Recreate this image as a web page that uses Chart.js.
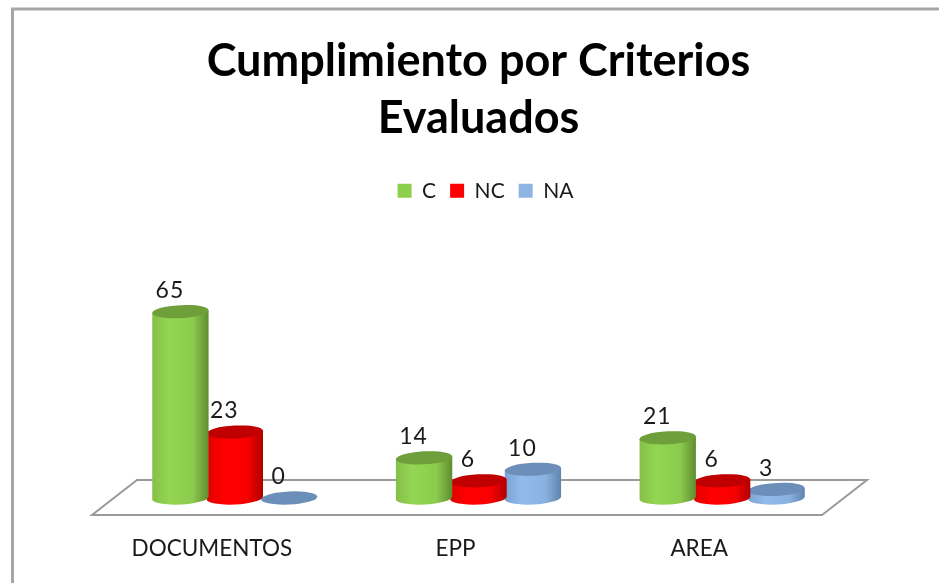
<!DOCTYPE html>
<html>
<head>
<meta charset="utf-8">
<style>
  html, body { margin: 0; padding: 0; background: #fff; }
  #wrap { position: absolute; left: 0; top: 0; width: 939px; height: 583px; }
  canvas { filter: blur(0.5px); }
</style>
<script src="https://cdn.jsdelivr.net/npm/chart.js@4"></script>
</head>
<body>
<div id="wrap"><canvas id="myChart" width="939" height="583"></canvas></div>
<script>
const categories = ['DOCUMENTOS', 'EPP', 'AREA'];
const seriesNames = ['C', 'NC', 'NA'];
const cValues = [65, 14, 21];
const ncValues = [23, 6, 6];
const naValues = [0, 10, 3];
const titleLines = ['Cumplimiento por Criterios', 'Evaluados'];

// colours for each cylinder: side gradient stops + darker lid
const skins = [
  { legend: '#8ccf4d', lid: '#6f9f3a', side: ['#86bf48', '#93d653', '#8ccb4d', '#5f8c30'] },
  { legend: '#ff0000', lid: '#c00000', side: ['#e00000', '#ff0000', '#f80000', '#b00000'] },
  { legend: '#8db4e2', lid: '#6c8fba', side: ['#7ba3d2', '#92bbec', '#8ab2e0', '#5f83ad'] }
];

const FONT = 'Lato, Carlito, sans-serif';
const TILT = -0.05;
const LID = 6.5;

function drawCylinder(ctx, bar, skin) {
  const a = bar.width / 2 + 1;
  const cx = bar.x, top = bar.y, base = bar.base;
  const dx = a * Math.cos(TILT), dy = a * Math.sin(TILT);
  const grad = ctx.createLinearGradient(cx - a, 0, cx + a, 0);
  grad.addColorStop(0, skin.side[0]);
  grad.addColorStop(0.3, skin.side[1]);
  grad.addColorStop(0.72, skin.side[2]);
  grad.addColorStop(1, skin.side[3]);

  if (base - top > 0.5) {
    ctx.beginPath();
    ctx.moveTo(cx - dx, top - dy);
    ctx.lineTo(cx - dx, base - dy);
    ctx.ellipse(cx, base, a, LID, TILT, Math.PI, 0, true);
    ctx.lineTo(cx + dx, top + dy);
    ctx.closePath();
    ctx.fillStyle = grad;
    ctx.fill();
  }
  ctx.beginPath();
  ctx.ellipse(cx, top, a, LID, TILT, 0, Math.PI * 2);
  ctx.fillStyle = skin.lid;
  ctx.fill();
}

const cylinderPlugin = {
  id: 'cylinders',
  afterLayout(chart) {
    // legend sits a little right of the title in the picture
    chart.legend.left += 7;
    chart.legend.right += 7;
  },
  beforeDraw(chart) {
    // outer frame, only top and left show in the picture
    const ctx = chart.ctx;
    ctx.save();
    ctx.strokeStyle = '#a6a6a6';
    ctx.lineWidth = 3;
    ctx.beginPath();
    ctx.moveTo(12.5, chart.height);
    ctx.lineTo(12.5, 9);
    ctx.lineTo(chart.width, 9);
    ctx.stroke();
    ctx.restore();
  },
  beforeDatasetsDraw(chart) {
    // floor of the 3d chart
    const ctx = chart.ctx, area = chart.chartArea, y0 = chart.scales.y.getPixelForValue(0);
    ctx.save();
    ctx.beginPath();
    ctx.moveTo(area.left + 24, y0 - 18);
    ctx.lineTo(area.right + 23, y0 - 18);
    ctx.lineTo(area.right - 22, y0 + 17);
    ctx.lineTo(area.left - 21, y0 + 17);
    ctx.closePath();
    ctx.strokeStyle = '#9a9a9a';
    ctx.lineWidth = 2;
    ctx.stroke();
    ctx.restore();
  },
  beforeDatasetDraw(chart, args) {
    const ctx = chart.ctx;
    ctx.save();
    args.meta.data.forEach(bar => drawCylinder(ctx, bar, skins[args.index]));
    ctx.restore();
    return false;
  },
  afterDatasetsDraw(chart) {
    const ctx = chart.ctx;
    ctx.save();
    ctx.font = '23px ' + FONT;
    ctx.letterSpacing = '1px';
    ctx.fillStyle = '#1a1a1a';
    ctx.textAlign = 'center';
    ctx.textBaseline = 'middle';
    chart.data.datasets.forEach((ds, i) => {
      chart.getDatasetMeta(i).data.forEach((bar, j) => {
        ctx.fillText(ds.data[j], bar.x - 10.5, bar.y - 21);
      });
    });
    ctx.restore();
  }
};

const allValues = [cValues, ncValues, naValues];

new Chart(document.getElementById('myChart').getContext('2d'), {
  type: 'bar',
  data: {
    labels: categories,
    datasets: seriesNames.map((name, i) => ({
      label: name,
      data: allValues[i],
      backgroundColor: skins[i].legend,
      categoryPercentage: 0.67,
      barPercentage: 1
    }))
  },
  options: {
    responsive: false,
    animation: false,
    layout: { padding: { left: 113, right: 95, top: 33, bottom: 0 } },
    scales: {
      x: {
        grid: { display: false },
        border: { display: false },
        afterFit(scale) { scale.height = 85; },
        ticks: { color: '#1a1a1a', padding: 29, labelOffset: -23, font: { family: FONT, size: 22.5 } }
      },
      y: {
        display: false,
        min: 0,
        max: 100
      }
    },
    plugins: {
      title: {
        display: true,
        text: titleLines,
        color: '#000',
        padding: { top: 0, bottom: 19 },
        font: { family: FONT, size: 45, weight: 'bold', lineHeight: 1.27 }
      },
      legend: {
        display: true,
        position: 'top',
        labels: { color: '#1a1a1a', boxWidth: 14, boxHeight: 14, padding: 14, font: { family: FONT, size: 21 } }
      },
      tooltip: { enabled: false }
    }
  },
  plugins: [cylinderPlugin]
});
</script>
</body>
</html>
